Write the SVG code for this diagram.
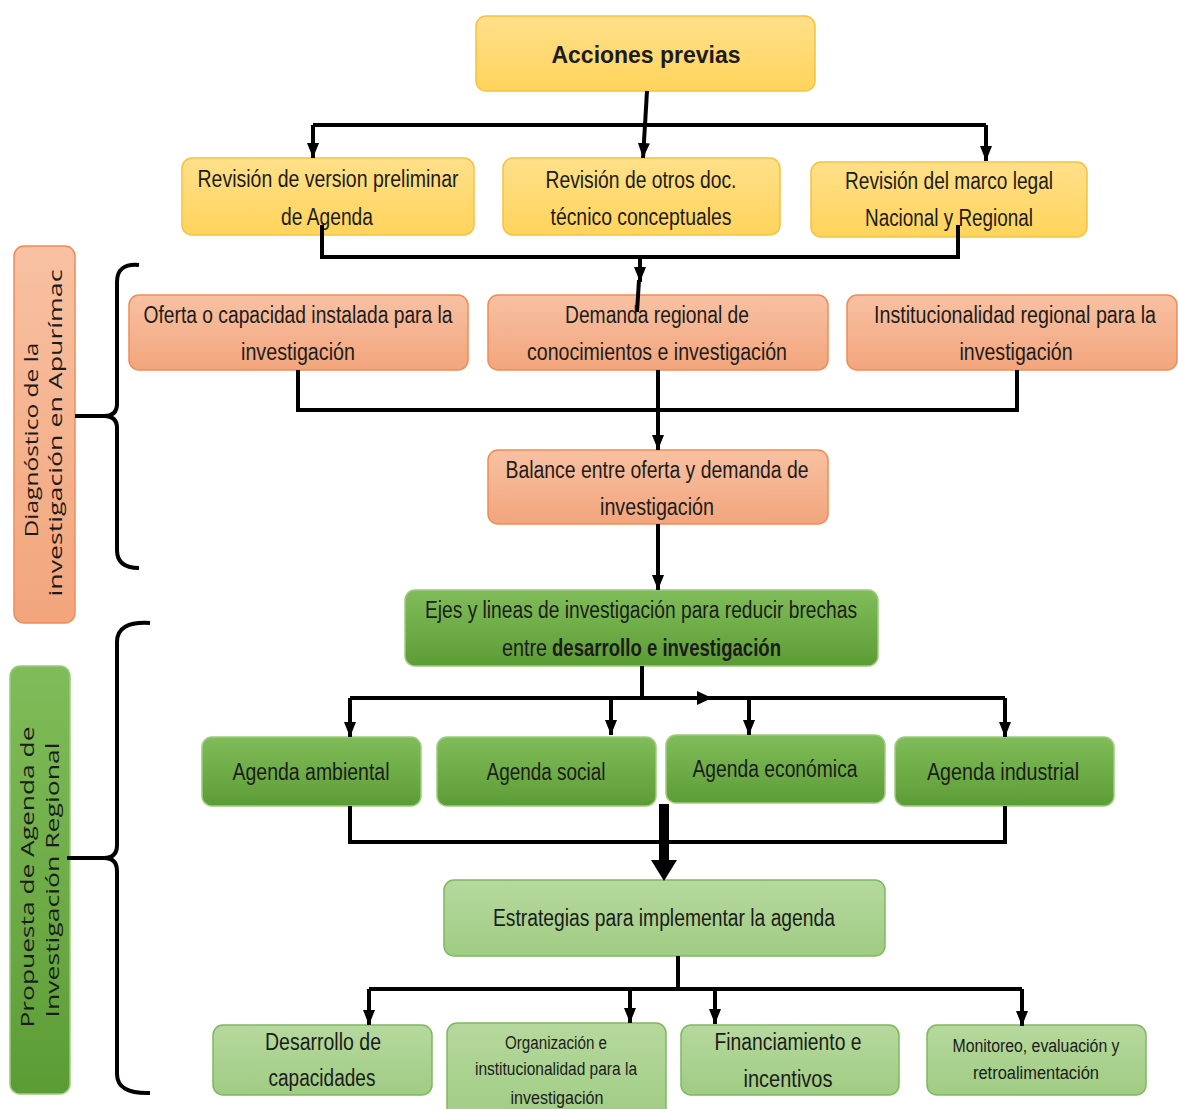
<svg xmlns="http://www.w3.org/2000/svg" width="1178" height="1109" viewBox="0 0 1178 1109">
<defs>
<linearGradient id="gY" x1="0" y1="0" x2="0" y2="1"><stop offset="0" stop-color="#ffe08a"/><stop offset="1" stop-color="#ffd45c"/></linearGradient>
<linearGradient id="gS" x1="0" y1="0" x2="0" y2="1"><stop offset="0" stop-color="#f8c1a2"/><stop offset="1" stop-color="#f2a57c"/></linearGradient>
<linearGradient id="gG" x1="0" y1="0" x2="0" y2="1"><stop offset="0" stop-color="#80bd5a"/><stop offset="1" stop-color="#5c9c35"/></linearGradient>
<linearGradient id="gL" x1="0" y1="0" x2="0" y2="1"><stop offset="0" stop-color="#b6d99e"/><stop offset="1" stop-color="#a0cc83"/></linearGradient>
<marker id="ah" markerUnits="userSpaceOnUse" markerWidth="15" markerHeight="12" refX="15" refY="6" orient="auto"><path d="M0,0 L15,6 L0,12 z" fill="#000"/></marker>
<style>
.y{fill:url(#gY);stroke:#f5c242;stroke-width:1.5}
.s{fill:url(#gS);stroke:#f08c55;stroke-width:1.5}
.g{fill:url(#gG);stroke:#9ccb7e;stroke-width:1.5}
.l{fill:url(#gL);stroke:#7fb860;stroke-width:1.5}
.t{font-family:"Liberation Sans",Arial,sans-serif;font-size:23px;fill:#1c1c1c;text-anchor:middle}
.sm{font-size:18px}
.v{font-family:"Open Sans","DejaVu Sans",sans-serif;font-size:18px;fill:#1c1c1c;text-anchor:middle}
.c{fill:none;stroke:#000;stroke-width:4}
.ca{fill:none;stroke:#000;stroke-width:4;marker-end:url(#ah)}
</style>
</defs>
<rect width="1178" height="1109" fill="#fff"/>

<g id="n-acciones"><rect class="y" x="476" y="16" width="339" height="75" rx="10"/>
<text class="t" x="646" y="63" font-size="32" font-weight="bold" textLength="189" lengthAdjust="spacingAndGlyphs">Acciones previas</text></g>

<g id="n-rev1"><rect class="y" x="182" y="158" width="292" height="77" rx="10"/>
<text class="t" x="328" y="187" textLength="261" lengthAdjust="spacingAndGlyphs">Revisión de version preliminar</text>
<text class="t" x="327" y="225" textLength="92" lengthAdjust="spacingAndGlyphs">de Agenda</text></g>

<g id="n-rev2"><rect class="y" x="503" y="158" width="277" height="77" rx="10"/>
<text class="t" x="641" y="188" textLength="191" lengthAdjust="spacingAndGlyphs">Revisión de otros doc.</text>
<text class="t" x="641" y="225" textLength="181" lengthAdjust="spacingAndGlyphs">técnico conceptuales</text></g>

<g id="n-rev3"><rect class="y" x="811" y="162" width="276" height="75" rx="10"/>
<text class="t" x="949" y="189" textLength="208" lengthAdjust="spacingAndGlyphs">Revisión del marco legal</text>
<text class="t" x="949" y="226" textLength="168" lengthAdjust="spacingAndGlyphs">Nacional y Regional</text></g>

<g id="n-oferta"><rect class="s" x="129" y="295" width="339" height="75" rx="10"/>
<text class="t" x="298" y="323" textLength="309" lengthAdjust="spacingAndGlyphs">Oferta o capacidad instalada para la</text>
<text class="t" x="298" y="360" textLength="114" lengthAdjust="spacingAndGlyphs">investigación</text></g>

<g id="n-demanda"><rect class="s" x="488" y="295" width="340" height="75" rx="10"/>
<text class="t" x="657" y="323" textLength="184" lengthAdjust="spacingAndGlyphs">Demanda regional de</text>
<text class="t" x="657" y="360" textLength="260" lengthAdjust="spacingAndGlyphs">conocimientos e investigación</text></g>

<g id="n-inst"><rect class="s" x="847" y="295" width="330" height="75" rx="10"/>
<text class="t" x="1015" y="323" textLength="282" lengthAdjust="spacingAndGlyphs">Institucionalidad regional para la</text>
<text class="t" x="1016" y="360" textLength="113" lengthAdjust="spacingAndGlyphs">investigación</text></g>

<g id="n-balance"><rect class="s" x="488" y="450" width="340" height="74" rx="10"/>
<text class="t" x="657" y="478" textLength="303" lengthAdjust="spacingAndGlyphs">Balance entre oferta y demanda de</text>
<text class="t" x="657" y="515" textLength="114" lengthAdjust="spacingAndGlyphs">investigación</text></g>

<g id="n-diagnostico"><rect class="s" x="14" y="246" width="61" height="377" rx="10"/>
<text class="v" transform="translate(38,440) rotate(-90)" textLength="195" lengthAdjust="spacingAndGlyphs">Diagnóstico de la</text>
<text class="v" transform="translate(62,433) rotate(-90)" textLength="327" lengthAdjust="spacingAndGlyphs">investigación en Apurímac</text></g>

<g id="n-ejes"><rect class="g" x="405" y="590" width="473" height="76" rx="10"/>
<text class="t" x="641" y="618" textLength="432" lengthAdjust="spacingAndGlyphs">Ejes y lineas de investigación para reducir brechas</text>
<text class="t" y="656" style="text-anchor:start"><tspan x="502" textLength="45" lengthAdjust="spacingAndGlyphs">entre</tspan><tspan x="552" font-weight="bold" textLength="229" lengthAdjust="spacingAndGlyphs">desarrollo e investigación</tspan></text></g>

<g id="n-ambiental"><rect class="g" x="202" y="737" width="219" height="69" rx="10"/>
<text class="t" x="311" y="780" textLength="157" lengthAdjust="spacingAndGlyphs">Agenda ambiental</text></g>

<g id="n-social"><rect class="g" x="437" y="737" width="219" height="69" rx="10"/>
<text class="t" x="546" y="780" textLength="119" lengthAdjust="spacingAndGlyphs">Agenda social</text></g>

<g id="n-economica"><rect class="g" x="666" y="735" width="219" height="68" rx="10"/>
<text class="t" x="775" y="777" textLength="165" lengthAdjust="spacingAndGlyphs">Agenda económica</text></g>

<g id="n-industrial"><rect class="g" x="895" y="737" width="219" height="69" rx="10"/>
<text class="t" x="1003" y="780" textLength="152" lengthAdjust="spacingAndGlyphs">Agenda industrial</text></g>

<g id="n-propuesta"><rect class="g" x="10" y="666" width="60" height="428" rx="10"/>
<text class="v" transform="translate(34,877) rotate(-90)" textLength="301" lengthAdjust="spacingAndGlyphs">Propuesta de Agenda de</text>
<text class="v" transform="translate(59,880) rotate(-90)" textLength="275" lengthAdjust="spacingAndGlyphs">Investigación Regional</text></g>

<g id="n-estrategias"><rect class="l" x="444" y="880" width="441" height="76" rx="10"/>
<text class="t" x="664" y="926" textLength="342" lengthAdjust="spacingAndGlyphs">Estrategias para implementar la agenda</text></g>

<g id="n-desarrollo"><rect class="l" x="213" y="1025" width="219" height="70" rx="10"/>
<text class="t" x="323" y="1050" textLength="116" lengthAdjust="spacingAndGlyphs">Desarrollo de</text>
<text class="t" x="322" y="1086" textLength="107" lengthAdjust="spacingAndGlyphs">capacidades</text></g>

<g id="n-organizacion"><rect class="l" x="447" y="1023" width="219" height="95" rx="10"/>
<text class="t sm" x="556" y="1049" textLength="102" lengthAdjust="spacingAndGlyphs">Organización e</text>
<text class="t sm" x="556" y="1075" textLength="162" lengthAdjust="spacingAndGlyphs">institucionalidad para la</text>
<text class="t sm" x="557" y="1104" textLength="93" lengthAdjust="spacingAndGlyphs">investigación</text></g>

<g id="n-financiamiento"><rect class="l" x="681" y="1025" width="218" height="70" rx="10"/>
<text class="t" x="788" y="1050" textLength="147" lengthAdjust="spacingAndGlyphs">Financiamiento e</text>
<text class="t" x="788" y="1087" textLength="89" lengthAdjust="spacingAndGlyphs">incentivos</text></g>

<g id="n-monitoreo"><rect class="l" x="927" y="1025" width="219" height="70" rx="10"/>
<text class="t sm" x="1036" y="1052" textLength="167" lengthAdjust="spacingAndGlyphs">Monitoreo, evaluación y</text>
<text class="t sm" x="1036" y="1079" textLength="126" lengthAdjust="spacingAndGlyphs">retroalimentación</text></g>

<g id="connectors">
<path class="c" d="M647,91 L645,125"/>
<path class="c" d="M313,125 H986"/>
<path class="ca" d="M313,125 V158"/>
<path class="ca" d="M645,125 L643,158"/>
<path class="ca" d="M986,125 V161"/>
<path class="c" d="M322,225 V257 H958 V225"/>
<path class="ca" d="M640,257 V282"/>
<path class="c" d="M639,280 L637,312"/>
<path class="c" d="M298,370 V410 H1017 V370"/>
<path class="ca" d="M658,370 V450"/>
<path class="ca" d="M658,524 V590"/>
<path class="c" d="M642,666 V698"/>
<path class="c" d="M350,698 H1005"/>
<path d="M697,691 L712,698 L697,705 z" fill="#000"/>
<path class="ca" d="M350,698 V737"/>
<path class="ca" d="M611,698 V735"/>
<path class="ca" d="M749,698 V735"/>
<path class="ca" d="M1005,698 V737"/>
<path class="c" d="M350,806 V842 H1005 V806"/>
<path d="M664,804 V862" fill="none" stroke="#000" stroke-width="10"/>
<path d="M651,860 L677,860 L664,881 z" fill="#000"/>
<path class="c" d="M678,956 V989"/>
<path class="c" d="M369,989 H1022"/>
<path class="ca" d="M369,989 V1025"/>
<path class="ca" d="M630,989 V1023"/>
<path class="ca" d="M715,989 V1024"/>
<path class="ca" d="M1022,989 V1026"/>
<path class="c" d="M139,265 Q117,263 117,282 V404 Q117,416 104,416 H75 M104,416 Q117,416 117,428 V550 Q117,568 139,568"/>
<path class="c" d="M150,623 Q117,621 117,642 V845 Q117,858 104,858 H67 M104,858 Q117,858 117,871 V1074 Q117,1094 150,1093"/>
</g>
</svg>
